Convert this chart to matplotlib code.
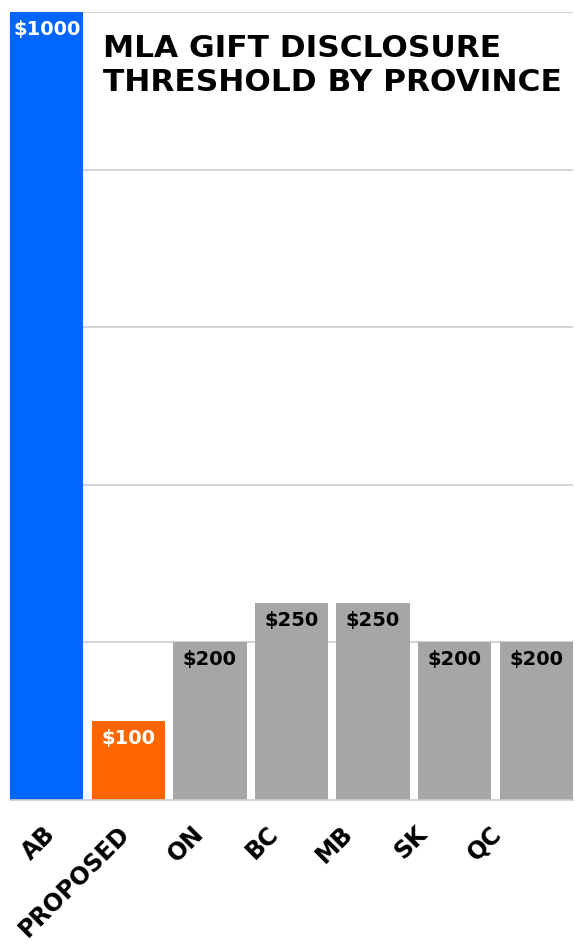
import matplotlib.pyplot as plt

provinces = ["AB", "PROPOSED", "ON", "BC", "MB", "SK", "QC"]
threshold = [1000, 100, 200, 250, 250, 200, 200]
bar_colors = ["#0066ff", "#ff6600", "#a6a6a6", "#a6a6a6", "#a6a6a6", "#a6a6a6", "#a6a6a6"]
label_colors = ["white", "white", "black", "black", "black", "black", "black"]

plt.rcParams['font.family'] = ['DejaVu Sans']

fig = plt.figure(figsize=(5.75, 9.46), dpi=100)
ax = fig.add_axes([10/575, 1 - 800/946, 563/575, 788/946])

x = list(range(len(provinces)))
bars = ax.bar(x, threshold, width=0.9, color=bar_colors, zorder=2)

# value labels inside top of bars
for xi, v, c in zip(x, threshold, label_colors):
    ax.text(xi, v - 10, "$" + str(v), ha="center", va="top", color=c,
            fontsize=14, fontweight="bold", zorder=3)

ax.set_xlim(-0.45, 6.45)
ax.set_ylim(0, 1000)
ax.set_yticks([200, 400, 600, 800, 1000])
ax.yaxis.grid(True, color="#cccccc", linewidth=1.2, zorder=0)
ax.tick_params(axis="y", left=False, labelleft=False)
ax.tick_params(axis="x", bottom=False, pad=12)
# category labels sit on a slightly tighter spacing than the bars
ax.set_xticks([i * 0.91 - 0.04 for i in x])
ax.set_xticklabels(provinces, rotation=45, ha="right", rotation_mode="anchor",
                   fontsize=17, fontweight="bold")
for s in ["top", "right", "left"]:
    ax.spines[s].set_visible(False)
ax.spines["bottom"].set_color("#cccccc")
ax.spines["bottom"].set_linewidth(1.2)

ax.text(103/575, 1 - 34/946, "MLA GIFT DISCLOSURE\nTHRESHOLD BY PROVINCE",
        transform=fig.transFigure, ha="left", va="top", fontsize=22.5,
        fontweight="bold", linespacing=1.2)

fig.savefig("out.png", dpi=100)
